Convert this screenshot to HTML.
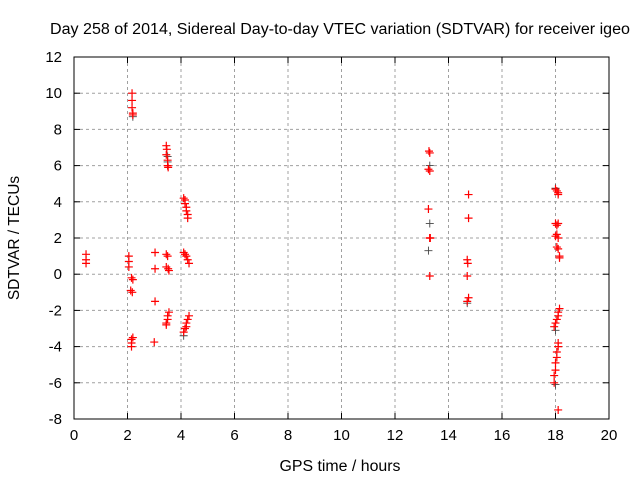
<!DOCTYPE html>
<html><head><meta charset="utf-8"><style>
html,body{margin:0;padding:0;background:#fff;}
svg{display:block;font-family:"Liberation Sans",sans-serif;}
</style></head><body>
<svg id="chart" width="640" height="480" viewBox="0 0 640 480" xmlns="http://www.w3.org/2000/svg">
<text x="340" y="34" font-size="15.5" text-anchor="middle" textLength="580" lengthAdjust="spacingAndGlyphs">Day 258 of 2014, Sidereal Day-to-day VTEC variation (SDTVAR) for receiver igeo</text>
<g id="grid"></g>
<g id="axes"></g>
<g id="black"></g>
<g id="red"></g>
<text x="340" y="471" font-size="15.5" text-anchor="middle" textLength="121" lengthAdjust="spacingAndGlyphs">GPS time / hours</text>
<text transform="translate(19,238) rotate(-90)" font-size="15.5" text-anchor="middle">SDTVAR / TECUs</text>
</svg>
<script>
const xTicks=[0,2,4,6,8,10,12,14,16,18,20];
const yTicks=[-8,-6,-4,-2,0,2,4,6,8,10,12];
const redX=[0.45,0.45,0.45,2.17,2.17,2.17,2.2,2.2,2.05,2.05,2.05,2.15,2.2,2.12,2.18,2.2,2.15,2.15,2.15,
3.03,3.03,3.03,3.0,
3.45,3.47,3.45,3.5,3.5,3.52,3.45,3.5,3.45,3.52,3.55,3.55,3.5,3.5,3.45,3.45,
4.1,4.15,4.15,4.2,4.2,4.25,4.25,4.1,4.15,4.2,4.25,4.3,4.3,4.25,4.2,4.2,4.15,4.1,
13.27,13.3,13.25,13.3,13.25,13.3,13.3,13.32,13.3,
14.75,14.75,14.7,14.72,14.7,14.75,14.7,
18.0,18.05,18.1,18.1,18.0,18.1,18.05,18.0,18.1,18.05,18.05,18.1,18.15,18.15,18.15,18.1,18.1,18.05,18.0,17.95,18.1,18.1,18.05,18.05,18.0,18.0,17.95,17.95,18.1];
const redY=[1.1,0.8,0.6,10.0,9.6,9.2,8.9,8.8,1.0,0.7,0.4,-0.2,-0.3,-0.9,-1.0,-3.5,-3.6,-3.8,-4.0,
1.2,0.3,-1.5,-3.75,
7.1,6.9,6.6,6.3,6.0,5.9,1.1,1.0,0.4,0.3,0.2,-2.1,-2.3,-2.5,-2.7,-2.8,
4.2,4.1,3.9,3.7,3.5,3.3,3.1,1.2,1.1,1.0,0.8,0.6,-2.3,-2.5,-2.7,-2.9,-3.0,-3.2,
6.8,6.7,5.8,5.7,3.6,2.0,2.0,2.0,-0.1,
4.4,3.1,0.8,0.6,-0.1,-1.3,-1.5,
4.7,4.6,4.5,4.4,2.8,2.8,2.7,2.1,2.0,2.2,1.5,1.4,1.0,0.9,-1.9,-2.1,-2.3,-2.5,-2.7,-2.9,-3.8,-4.0,-4.3,-4.6,-4.9,-5.3,-5.6,-6.0,-7.5];
const blackX=[2.2,3.5,3.5,4.1,13.3,13.3,13.25,14.7,18.0,18.0,18.0];
const blackY=[8.7,6.5,6.2,-3.4,6.0,2.8,1.3,-1.6,-3.1,-6.1,4.75];
const L=74,R=609,T=57,B=419;
const xs=v=>L+(v-0)/(20-0)*(R-L);
const ys=v=>B-(v+8)/(12+8)*(B-T);
const NS='http://www.w3.org/2000/svg';
function mk(tag,attrs,parent){const e=document.createElementNS(NS,tag);for(const k in attrs)e.setAttribute(k,attrs[k]);parent.appendChild(e);return e;}
const grid=document.getElementById('grid'),axes=document.getElementById('axes');
xTicks.forEach(t=>{const x=xs(t);
 if(t>0&&t<20){const g=mk('line',{x1:x,x2:x,y1:T,y2:B,stroke:'#a0a0a0','stroke-dasharray':'3,3','stroke-width':1},grid);}
 mk('line',{x1:x,x2:x,y1:B,y2:B-6,stroke:'#000'},axes);mk('line',{x1:x,x2:x,y1:T,y2:T+6,stroke:'#000'},axes);
 const tx=mk('text',{x:x,y:B+21,'font-size':15,'text-anchor':'middle'},axes);tx.textContent=t;
 });
yTicks.forEach(t=>{const y=ys(t);
 if(t>-8&&t<12){const g=mk('line',{x1:L,x2:R,y1:y,y2:y,stroke:'#a0a0a0','stroke-dasharray':'3,3','stroke-width':1},grid);}
 mk('line',{x1:L,x2:L+6,y1:y,y2:y,stroke:'#000'},axes);mk('line',{x1:R,x2:R-6,y1:y,y2:y,stroke:'#000'},axes);
 const tx=mk('text',{x:L-12,y:y+5,'font-size':15,'text-anchor':'end'},axes);tx.textContent=t;
 });
const fr=mk('rect',{x:L,y:T,width:R-L,height:B-T,fill:'none',stroke:'#000','stroke-width':1},axes);

function plus(g,x,y,c,w){const p=mk('path',{d:`M${x-4},${y}H${x+4}M${x},${y-4}V${y+4}`,stroke:c,'stroke-width':w},g);return p;}
const bg=document.getElementById('black');
blackX.forEach((v,i)=>{const p=plus(bg,xs(v),ys(blackY[i]),'#444',0.9);

});
const rg=document.getElementById('red');
redX.forEach((v,i)=>{const p=plus(rg,xs(v),ys(redY[i]),'#ff0000',1.2);

});
</script>
</body></html>
